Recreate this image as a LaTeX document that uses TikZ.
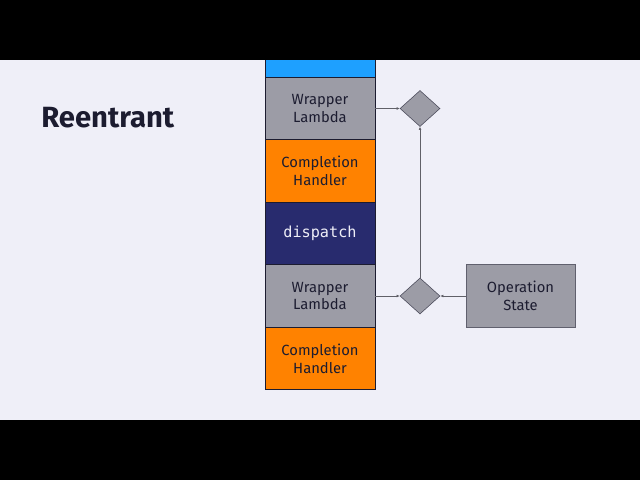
\documentclass[tikz,border=0pt]{standalone}
\usepackage{fontspec}
\setmainfont{Fira Sans}
\setmonofont{DejaVu Sans Mono}
\usepackage{xcolor}
\usepackage{tikz}
\usetikzlibrary{shapes.geometric, arrows.meta}

\definecolor{pagebg}{HTML}{EFEFF8}
\definecolor{topblue}{HTML}{1EA0FF}
\definecolor{wrapgray}{HTML}{9C9CA6}
\definecolor{handorange}{HTML}{FF8200}
\definecolor{dispnavy}{HTML}{282B6E}
\definecolor{inkdark}{HTML}{1C1C30}
\definecolor{linegray}{HTML}{606068}

\tikzset{
    block/.style={draw=inkdark, line width=0.6pt, minimum width=110*0.025cm,
        minimum height=62.5*0.025cm, inner sep=0pt, align=center,
        font=\fontsize{10.5}{12.8}\selectfont, text=inkdark},
    wrapblock/.style={block, fill=wrapgray},
    handblock/.style={block, fill=handorange},
    dispblock/.style={block, fill=dispnavy, text=pagebg,
        font=\ttfamily\fontsize{10.8}{12.8}\selectfont},
    gate/.style={diamond, draw=inkdark!80, line width=0.4pt, fill=wrapgray,
        minimum width=40*0.025cm, minimum height=36*0.025cm, inner sep=0pt,
        aspect=1.1},
    link/.style={draw=linegray, line width=0.6pt, -{Latex[length=2.2pt,width=2pt]}}
}

\begin{document}
\begin{tikzpicture}[x=0.025cm, y=-0.025cm]
    		\useasboundingbox (0,0) rectangle (640,480);
    		\fill[black] (0,0) rectangle (640,480);
    		\fill[pagebg] (0,60) rectangle (640,420);
    		
    		\node[font=\fontsize{20.8}{24}\selectfont\bfseries, text=inkdark, anchor=west, inner sep=0pt] (title) at (41,118) {Reentrant};
    		
    		\fill[topblue] (265,60) rectangle (375,77);
    		\draw[inkdark, line width=0.6pt] (265,60) -- (265,77) (375,60) -- (375,77);
    		
    		\node[wrapblock] (wrapA) at (320,108.5) {Wrapper\\Lambda};
    		\node[handblock] (handA) at (320,171) {Completion\\Handler};
    		\node[dispblock] (disp) at (320,233.5) {dispatch};
    		\node[wrapblock] (wrapB) at (320,296) {Wrapper\\Lambda};
    		\node[handblock] (handB) at (320,358.5) {Completion\\Handler};
    		
    		\node[gate] (gateA) at (420,108.5) {};
    		\node[gate] (gateB) at (420,296) {};
    		\node[wrapblock, draw=inkdark!70, minimum width=109*0.025cm] (opstate) at (520.5,296) {Operation\\State};
    		
    		\draw[link] (wrapA.east) -- (gateA.west);
    		\draw[link] (wrapB.east) -- (gateB.west);
    		\draw[link] (opstate.west) -- (gateB.east);
    		\draw[link] (gateB.north) -- (gateA.south);
    	\end{tikzpicture}
\end{document}
